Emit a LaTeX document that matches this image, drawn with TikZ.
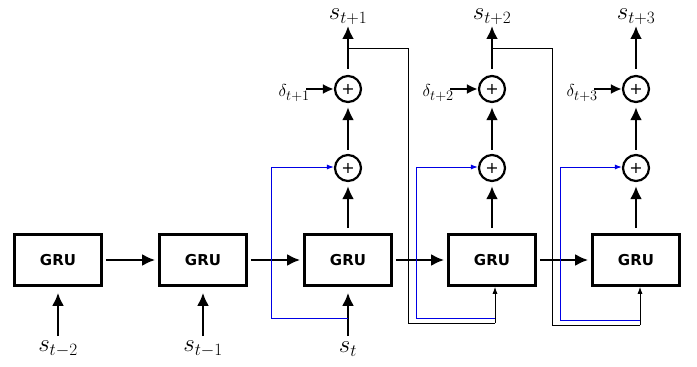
\documentclass[tikz,border=0pt]{standalone}
\usepackage{fontspec}
\newfontfamily\dejavu{DejaVu Sans}
\usetikzlibrary{arrows.meta}
\begin{document}
\begin{tikzpicture}[x=1pt,y=-1pt,
  gru/.style={draw, line width=2.6pt, minimum width=87pt, minimum height=51pt, inner sep=0pt,
    font=\dejavu\bfseries\fontsize{15}{15}\selectfont},
  plus/.style={draw, circle, line width=2.2pt, minimum size=26pt, inner sep=0pt,
    font=\dejavu\fontsize{16}{16}\selectfont},
  lbl/.style={inner sep=0pt, font=\fontsize{25}{30}\selectfont},
  dlbl/.style={inner sep=0pt, anchor=east, font=\fontsize{19}{22}\selectfont},
  big/.style={line width=2.6pt, -{Latex[length=13pt,width=12pt]}},
  thin/.style={line width=0.9pt},
  small/.style={line width=0.9pt, -{Latex[length=7pt,width=5pt]}},
  fb/.style={line width=1pt, draw=blue!90!black}
]
\useasboundingbox (0,0) rectangle (697,367);

% GRU boxes
\foreach \i/\x in {1/58,2/203,3/348,4/492,5/636}{
  \node[gru] (g\i) at (\x,260) {GRU};
}
% horizontal arrows
\foreach \a/\b in {1/2,2/3,3/4,4/5}{
  \draw[big, shorten <=3pt, shorten >=3pt] (g\a.east) -- (g\b.west);
}
% bottom labels and input arrows (columns 1-3)
\node[lbl] (s1) at (58,349) {$s_{t-2}$};
\node[lbl] (s2) at (203,349) {$s_{t-1}$};
\node[lbl] (s3) at (348,349) {$s_{t}$};
\foreach \i in {1,2,3}{
  \draw[big, shorten >=6pt] (g\i.south |- 0,336) coordinate (in\i) -- (g\i.south);
}

% columns 3-5: plus circles and outputs
\foreach \i/\x/\n in {3/348/1,4/492/2,5/636/3}{
  \node[plus] (pl\i) at (\x,168) {+};
  \node[plus] (pu\i) at (\x,89) {+};
  \node[lbl] (o\i) at (\x,17) {$s_{t+\n}$};
  \draw[big, shorten <=5pt, shorten >=4pt] (g\i.north) -- (pl\i.south);
  \draw[big, shorten <=4pt, shorten >=4pt] (pl\i.north) -- (pu\i.south);
  \draw[big, shorten <=6pt, shorten >=1pt] (pu\i.north) -- (o\i.south);
  \node[dlbl] (d\i) at (\x-38,93) {$\delta_{t+\n}$};
  \draw[big, -{Latex[length=11pt,width=10pt]}, line width=2.2pt] ([xshift=-4pt]d\i.east |- pu\i.west) -- (pu\i.west);
}

% black feedback lines
\coordinate (b3a) at (348,48);
\coordinate (b3b) at (408,48);
\coordinate (b3c) at (408,323);
\coordinate (b3d) at (495,323);
\draw[thin] (b3a) -- (b3b) -- (b3c) -- (b3d);
\draw[small] (b3d) -- (b3d |- g4.south);
\coordinate (b4a) at (492,48);
\coordinate (b4b) at (552,48);
\coordinate (b4c) at (552,325);
\coordinate (b4d) at (640,325);
\draw[thin] (b4a) -- (b4b) -- (b4c) -- (b4d);
\draw[small] (b4d) -- (b4d |- g5.south);

% blue skip lines
\coordinate (u3a) at (348,318);
\coordinate (u3b) at (271,318);
\coordinate (u3c) at (271,167);
\draw[fb, -{Latex[length=7pt,width=5pt]}] (u3a) -- (u3b) -- (u3c) -- (u3c -| pl3.west);
\coordinate (u4a) at (495,318);
\coordinate (u4b) at (416,318);
\coordinate (u4c) at (416,167);
\draw[fb, -{Latex[length=7pt,width=5pt]}] (u4a) -- (u4b) -- (u4c) -- (u4c -| pl4.west);
\coordinate (u5a) at (640,320);
\coordinate (u5b) at (560,320);
\coordinate (u5c) at (560,167);
\draw[fb, -{Latex[length=7pt,width=5pt]}] (u5a) -- (u5b) -- (u5c) -- (u5c -| pl5.west);
\end{tikzpicture}
\end{document}
